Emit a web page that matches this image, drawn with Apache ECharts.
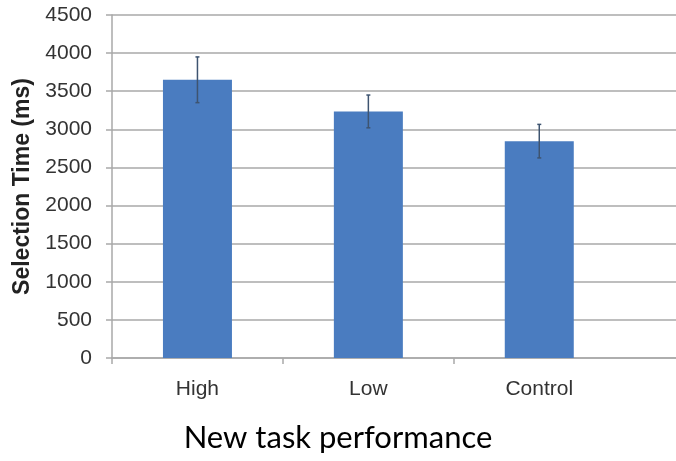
<!DOCTYPE html>
<html>
<head>
<meta charset="utf-8">
<script src="https://cdn.jsdelivr.net/npm/echarts@6/dist/echarts.min.js"></script>
<style>
  html, body { margin: 0; padding: 0; background: #fff; }
  #chart { width: 676px; height: 461px; }
</style>
</head>
<body>
<div id="chart"></div>
<script>
// values
var categories = ['High', 'Low', 'Control'];
var meanTime = [3650, 3235, 2845];
var errTime = [300, 215, 220];
var yTicks = [0, 500, 1000, 1500, 2000, 2500, 3000, 3500, 4000, 4500];

var gridColor = '#a9a9a9';

// bars sit at the middle of each category slot (0.5, 1.5, 2.5)
var barData = meanTime.map(function (v, i) { return [i + 0.5, v]; });
var errData = meanTime.map(function (v, i) { return [i + 0.5, v - errTime[i], v + errTime[i]]; });

var chart = echarts.init(document.getElementById('chart'), null, { renderer: 'canvas' });

var option = {
  animation: false,
  title: {
    text: 'New task performance',
    left: 'center',
    top: 422,
    padding: 0,
    textStyle: { fontFamily: 'Lato', fontWeight: 'normal', fontSize: 31, color: '#000' }
  },
  grid: { left: 112, right: 0, top: 15, bottom: 103 },
  xAxis: {
    type: 'value',
    min: 0,
    max: 3.3,
    interval: 1,
    splitLine: { show: false },
    axisLine: { show: true, lineStyle: { color: gridColor, width: 1.5 } },
    axisTick: { show: true, length: 6, customValues: [0, 1, 2], lineStyle: { color: gridColor, width: 1.5 } },
    axisLabel: {
      customValues: [0.5, 1.5, 2.5],
      formatter: function (v) { return categories[Math.floor(v)] || ''; },
      margin: 21,
      fontFamily: 'Liberation Sans',
      fontSize: 21,
      color: '#333'
    }
  },
  yAxis: {
    type: 'value',
    min: 0,
    max: yTicks[yTicks.length - 1],
    interval: 500,
    name: 'Selection Time (ms)',
    nameLocation: 'middle',
    nameRotate: 90,
    nameGap: 78,
    nameTextStyle: { fontFamily: 'Liberation Sans', fontWeight: 'bold', fontSize: 23, color: '#222' },
    axisLine: { show: true, lineStyle: { color: gridColor, width: 1.5 } },
    axisTick: { show: true, length: 6, lineStyle: { color: gridColor, width: 1.5 } },
    splitLine: { lineStyle: { color: gridColor, width: 1.5 } },
    axisLabel: {
      margin: 20,
      formatter: function (v) { return String(v); },
      fontFamily: 'Liberation Sans',
      fontSize: 21,
      color: '#333'
    }
  },
  series: [
    {
      type: 'bar',
      data: barData,
      barWidth: 69,
      itemStyle: { color: '#4a7cc0' }
    },
    {
      type: 'custom',
      data: errData,
      z: 10,
      renderItem: function (params, api) {
        var lo = api.coord([api.value(0), api.value(1)]);
        var hi = api.coord([api.value(0), api.value(2)]);
        var cap = 2;
        var style = { stroke: '#3e5470', lineWidth: 1.5 };
        return {
          type: 'group',
          children: [
            { type: 'line', shape: { x1: lo[0], y1: lo[1], x2: hi[0], y2: hi[1] }, style: style },
            { type: 'line', shape: { x1: lo[0] - cap, y1: lo[1], x2: lo[0] + cap, y2: lo[1] }, style: style },
            { type: 'line', shape: { x1: hi[0] - cap, y1: hi[1], x2: hi[0] + cap, y2: hi[1] }, style: style }
          ]
        };
      }
    }
  ]
};

chart.setOption(option);
</script>
</body>
</html>
